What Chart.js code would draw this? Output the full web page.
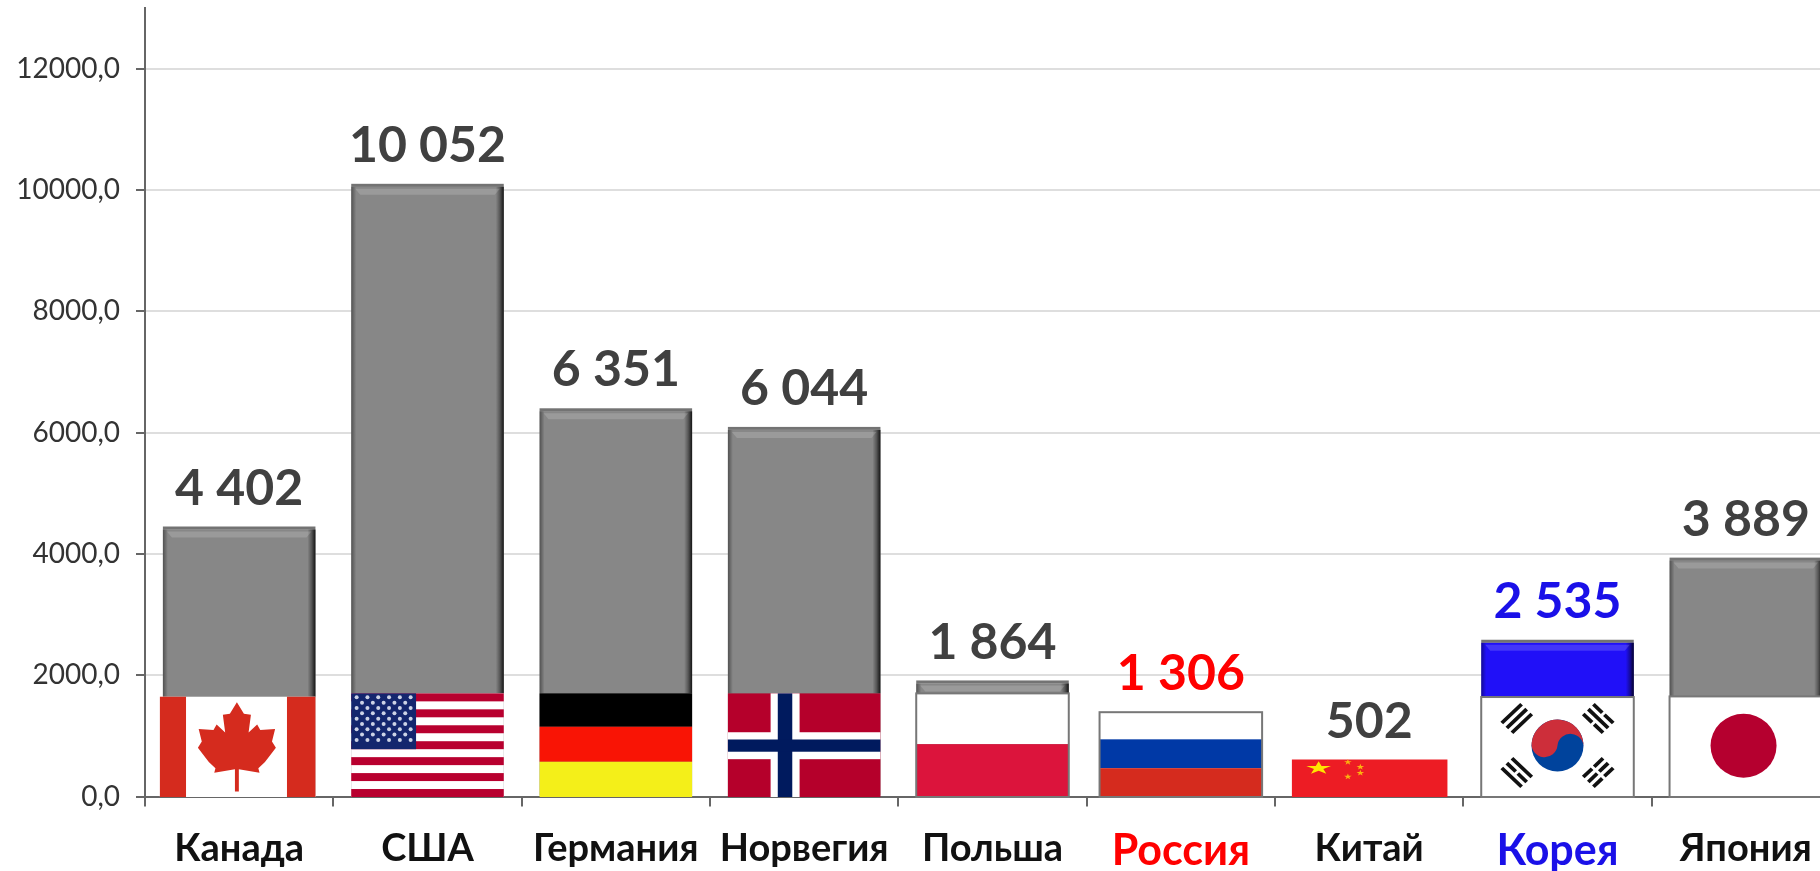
<!DOCTYPE html>
<html lang="ru">
<head>
<meta charset="utf-8">
<title>Chart</title>
<style>
html,body{margin:0;padding:0;background:#fff;width:1820px;height:871px;overflow:hidden}
canvas{display:block;filter:blur(.6px)}
</style>
<script src="https://cdn.jsdelivr.net/npm/chart.js@4"></script>
</head>
<body>
<canvas id="c" width="1840" height="871"></canvas>
<script>
// ---- data ----
const categories = ["Канада","США","Германия","Норвегия","Польша","Россия","Китай","Корея","Япония"];
const values = [4402,10052,6351,6044,1864,1306,502,2535,3889];
const valueLabels = ["4 402","10 052","6 351","6 044","1 864","1 306","502","2 535","3 889"];
const flagHeights = [1645,1700,1700,1700,1700,1390,610,1640,1650];
const yTicks = [0,2000,4000,6000,8000,10000,12000];
const barColors = ["#878787","#878787","#878787","#878787","#878787","#ffffff","#ed1c24","#2010f8","#878787"];
const labelColors = ["#404040","#404040","#404040","#404040","#404040","#ff0000","#404040","#1a10e8","#404040"];
const tickColors = ["#111111","#111111","#111111","#111111","#111111","#ff0000","#111111","#1a10e8","#111111"];
const FONT = 'Lato, Carlito, Calibri, sans-serif';

// ---- flag painters (each fills the rect given by the flag bar) ----
function band(c,x,y,w,h,col){c.fillStyle=col;c.fillRect(x,y,w,h);}
function frame(c,r){c.strokeStyle='#777';c.lineWidth=2;c.strokeRect(r.x,r.y,r.w,r.h);}
function hStripes(c,r,cols,fr){let y=r.y;cols.forEach((col,i)=>{const h=r.h*fr[i];band(c,r.x,y,r.w,h,col);y+=h;});}
const leaf=[[0,0],[.18,.13],[.36,.14],[.3,.34],[.52,.25],[.6,.31],[.98,.3],[.9,.44],[1,.51],[.72,.67],[.55,.74],[.58,.79],[.05,.75],[.05,1]];
function star(c,cx,cy,rx,ry,col){
  c.fillStyle=col;c.beginPath();
  for(let i=0;i<10;i++){
    const a=-Math.PI/2+i*Math.PI/5,k=i%2?.38:1;
    c.lineTo(cx+Math.cos(a)*rx*k,cy+Math.sin(a)*ry*k);
  }
  c.closePath();c.fill();
}
function trigram(c,cx,cy,angle,pattern,sx,sy){
  c.save();c.translate(cx,cy);c.scale(sx,sy);c.rotate(angle);c.fillStyle='#111';
  pattern.forEach((broken,i)=>{
    const y=(i-1)*7.2-1.9;
    if(broken){c.fillRect(-14,y,12.5,3.8);c.fillRect(1.5,y,12.5,3.8);}
    else c.fillRect(-14,y,28,3.8);
  });
  c.restore();
}
const painters={
  "Канада"(c,r){
    band(c,r.x,r.y,r.w,r.h,'#fff');
    band(c,r.x,r.y,r.w*.168,r.h,'#d52b1e');
    band(c,r.x+r.w*.817,r.y,r.w*.183,r.h,'#d52b1e');
    const cx=r.x+r.w*.495,top=r.y+r.h*.055,hw=39,hh=r.h*.89;
    c.fillStyle='#d52b1e';c.beginPath();
    leaf.forEach(p=>c.lineTo(cx+p[0]*hw,top+p[1]*hh));
    leaf.slice().reverse().forEach(p=>c.lineTo(cx-p[0]*hw,top+p[1]*hh));
    c.closePath();c.fill();
  },
  "США"(c,r){
    const sh=r.h/13;
    band(c,r.x,r.y,r.w,r.h,'#fff');
    for(let i=0;i<13;i+=2)band(c,r.x,r.y+i*sh,r.w,sh,'#b8002f');
    const w=r.w*.425,h=sh*7;
    band(c,r.x,r.y,w,h,'#14266e');
    c.fillStyle='#cdd3e6';
    for(let row=0;row<9;row++){
      const n=row%2?5:6;
      for(let k=0;k<n;k++){
        const sx=w/6,px=r.x+sx*(k+(row%2?1:.5)),py=r.y+h*(row+.75)/10.5*1.0;
        c.beginPath();c.arc(px,py,2,0,7);c.fill();
      }
    }
  },
  "Германия"(c,r){hStripes(c,r,['#000','#f91405','#f4ef19'],[.322,.338,.34]);},
  "Норвегия"(c,r){
    band(c,r.x,r.y,r.w,r.h,'#b5002b');
    band(c,r.x+r.w*.28,r.y,r.w*.19,r.h,'#fff');
    band(c,r.x,r.y+r.h*.375,r.w,r.h*.26,'#fff');
    band(c,r.x+r.w*.327,r.y,r.w*.095,r.h,'#001a5e');
    band(c,r.x,r.y+r.h*.445,r.w,r.h*.118,'#001a5e');
  },
  "Польша"(c,r){hStripes(c,r,['#fff','#dc143c'],[.49,.51]);frame(c,r);},
  "Россия"(c,r){hStripes(c,r,['#fff','#0039a6','#d52b1e'],[.32,.34,.34]);frame(c,r);},
  "Китай"(c,r){
    band(c,r.x,r.y,r.w,r.h,'#ed1c24');
    star(c,r.x+r.w*.172,r.y+r.h*.23,13,7,'#ffe600');
    [[.36,.07],[.44,.2],[.44,.36],[.36,.46]].forEach(p=>star(c,r.x+r.w*p[0],r.y+r.h*p[1],4,3.2,'#fbb30f'));
  },
  "Корея"(c,r){
    band(c,r.x,r.y,r.w,r.h,'#fff');
    const cx=r.x+r.w*.5,cy=r.y+r.h*.485,R=26;
    c.save();c.translate(cx,cy);
    const a=.1;
    c.fillStyle='#00439c';c.beginPath();c.arc(0,0,R,0,7);c.fill();
    c.fillStyle='#cd2e3a';c.beginPath();c.arc(0,0,R,Math.PI+a,a);
    c.arc(Math.cos(a)*R/2,Math.sin(a)*R/2,R/2,a,Math.PI+a,true);
    c.arc(-Math.cos(a)*R/2,-Math.sin(a)*R/2,R/2,a,Math.PI+a,false);
    c.closePath();c.fill();c.restore();
    const dx=r.w*.267,dy=r.h*.27,sx=1,sy=.95;
    trigram(c,cx-dx,cy-dy,-Math.PI/4,[0,0,0],sx,sy);
    trigram(c,cx+dx,cy-dy,Math.PI/4,[1,0,1],sx,sy);
    trigram(c,cx-dx,cy+dy,Math.PI/4,[0,1,0],sx,sy);
    trigram(c,cx+dx,cy+dy,-Math.PI/4,[1,1,1],sx,sy);
    frame(c,r);
  },
  "Япония"(c,r){
    band(c,r.x,r.y,r.w,r.h,'#fff');
    c.fillStyle='#b5002f';c.beginPath();c.ellipse(r.x+r.w*.485,r.y+r.h*.49,33,32,0,0,7);c.fill();
    frame(c,r);
  }
};
const flagGrow={"Канада":[3,0],"Россия":[5,5],"Китай":[1,2],"Япония":[0,0]};

function bevel(c,x,y,w,h){
  if(h<=0)return;
  let g=c.createLinearGradient(x+w-8,0,x+w,0);
  g.addColorStop(0,'rgba(0,0,0,0)');g.addColorStop(.5,'rgba(0,0,0,.35)');g.addColorStop(1,'rgba(0,0,0,.85)');
  c.fillStyle=g;c.fillRect(x+w-8,y,8,h);
  g=c.createLinearGradient(x,0,x+5,0);
  g.addColorStop(0,'rgba(0,0,0,.4)');g.addColorStop(1,'rgba(0,0,0,0)');
  c.fillStyle=g;c.fillRect(x,y,5,h);
  const t=Math.min(8,h);
  c.fillStyle='rgba(255,255,255,.16)';
  c.beginPath();c.moveTo(x+4,y+2);c.lineTo(x+w-4,y+2);c.lineTo(x+w-9,y+t);c.lineTo(x+9,y+t);c.closePath();c.fill();
  c.fillStyle='rgba(0,0,0,.55)';c.fillRect(x,y-3,w,3);
}

const flagsAndLabels={
  id:'flagsAndLabels',
  afterDatasetsDraw(chart){
    const c=chart.ctx,bars=chart.getDatasetMeta(0).data,flags=chart.getDatasetMeta(1).data;
    categories.forEach((name,i)=>{
      const b=bars[i],f=flags[i],g=flagGrow[name]||[0,0];
      const bx=b.x-b.width/2;
      c.save();
      const flagTop=f.y;
      if(values[i]>flagHeights[i]) bevel(c,bx,b.y,b.width,flagTop-b.y);
      const r={x:bx-g[0],y:flagTop,w:b.width+g[0]+g[1],h:f.base-flagTop+1.5};
      painters[name](c,r);
      c.restore();
      const top=Math.min(b.y,f.y);
      c.save();
      c.font='bold 50px '+FONT;c.textAlign='center';c.textBaseline='middle';
      c.fillStyle=labelColors[i];
      c.fillText(valueLabels[i],b.x,top-(f.y<b.y?38:41));
      c.restore();
    });
  }
};

new Chart(document.getElementById('c'),{
  type:'bar',
  data:{labels:categories,datasets:[
    {label:'Значение',data:values,backgroundColor:barColors,barPercentage:.81,categoryPercentage:1,grouped:false,order:2},
    {label:'Флаг',data:flagHeights,backgroundColor:'rgba(0,0,0,0)',barPercentage:.81,categoryPercentage:1,grouped:false,order:1}
  ]},
  plugins:[flagsAndLabels],
  options:{
    responsive:false,animation:false,
    layout:{padding:{top:8,right:0,left:0,bottom:0}},
    plugins:{legend:{display:false},tooltip:{enabled:false},title:{display:false}},
    scales:{
      x:{
        offset:true,
        afterFit(s){s.height=74.5;},
        grid:{offset:true,drawOnChartArea:false,color:'#666',tickColor:'#666',tickLength:10,lineWidth:2},
        border:{color:'#666',width:2},
        ticks:{font:c=>({family:FONT,size:tickColors[c.index]==='#111111'?38:43,weight:'bold'}),color:c=>tickColors[c.index],padding:19,maxRotation:0,autoSkip:false}
      },
      y:{
        min:0,max:13000,
        afterBuildTicks(s){s.ticks=yTicks.map(v=>({value:v}));},
        afterFit(s){s.width=145;s.paddingTop=0;},
        grid:{color:'#dedede',tickColor:'#666',lineWidth:2,tickLength:9},
        border:{color:'#666',width:2},
        ticks:{includeBounds:false,font:{family:FONT,size:28},color:'#333',padding:16,
          callback:v=>v.toFixed(1).replace('.',',')}
      }
    }
  }
});
</script>
</body>
</html>
